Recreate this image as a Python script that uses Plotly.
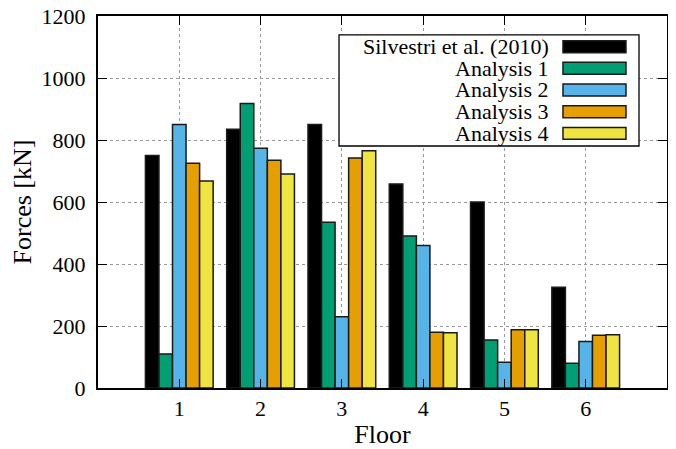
import plotly.graph_objects as go

floors = [1, 2, 3, 4, 5, 6]
series_names = ["Silvestri et al. (2010)", "Analysis 1", "Analysis 2", "Analysis 3", "Analysis 4"]
silvestri = [750, 835, 850, 658, 600, 325]
analysis1 = [110, 918, 535, 490, 155, 80]
analysis2 = [850, 773, 230, 460, 83, 150]
analysis3 = [725, 735, 742, 180, 188, 170]
analysis4 = [668, 690, 765, 178, 188, 172]
y_ticks = [0, 200, 400, 600, 800, 1000, 1200]

values = [silvestri, analysis1, analysis2, analysis3, analysis4]
colors = ["#000000", "#009E73", "#56B4E9", "#E69F00", "#F0E442"]
FONT = "Liberation Serif, Times New Roman, serif"
FS = 22

fig = go.Figure()
for name, vals, col in zip(series_names, values, colors):
    fig.add_trace(go.Bar(x=floors, y=vals, name=name, marker=dict(color=col, line=dict(color="#1a1a1a", width=1.5)),
                         showlegend=False))

# manual gnuplot-style legend (text right-aligned, sample box on the right)
shapes = [dict(type="rect", xref="paper", yref="paper", x0=0.4236, x1=0.9508, y0=0.6505, y1=0.949,
               fillcolor="white", line=dict(color="black", width=1.3), layer="above")]
annotations = []
row_y = [0.9175, 0.8594, 0.8011, 0.7427, 0.6845]
for name, col, yy in zip(series_names, colors, row_y):
    shapes.append(dict(type="rect", xref="paper", yref="paper", x0=0.8172, x1=0.9279, y0=yy - 0.0161, y1=yy + 0.0161,
                       fillcolor=col, line=dict(color="#1a1a1a", width=1.5), layer="above"))
    annotations.append(dict(xref="paper", yref="paper", x=0.7961, y=yy, xanchor="right", yanchor="middle",
                            text=name, showarrow=False, font=dict(family=FONT, size=FS, color="black")))

fig.update_layout(
    width=668, height=441,
    margin=dict(l=90, r=9, t=8, b=61),
    paper_bgcolor="white", plot_bgcolor="white",
    barmode="group", bargap=1/6, bargroupgap=0,
    font=dict(family=FONT, size=FS, color="black"),
    shapes=shapes, annotations=annotations,
)
fig.update_xaxes(range=[0, 7], tickvals=floors, ticktext=[str(f) for f in floors],
                 ticks="inside", ticklen=9, tickwidth=1.2, tickcolor="black", ticklabelstandoff=0,
                 showline=True, linewidth=2, linecolor="black", mirror="allticks",
                 showgrid=True, gridcolor="#999999", griddash="dot", gridwidth=1,
                 title=dict(text="Floor", standoff=6), zeroline=False, automargin=False)
fig.update_yaxes(range=[0, 1200], tickvals=y_ticks,
                 ticks="inside", ticklen=9, tickwidth=1.2, tickcolor="black", ticklabelstandoff=6,
                 ticklabeloverflow="allow",
                 showline=True, linewidth=2, linecolor="black", mirror="allticks",
                 showgrid=True, gridcolor="#999999", griddash="dot", gridwidth=1,
                 title=dict(text="Forces [kN]", standoff=12), zeroline=False, automargin=False)

fig.write_html("out.html")
